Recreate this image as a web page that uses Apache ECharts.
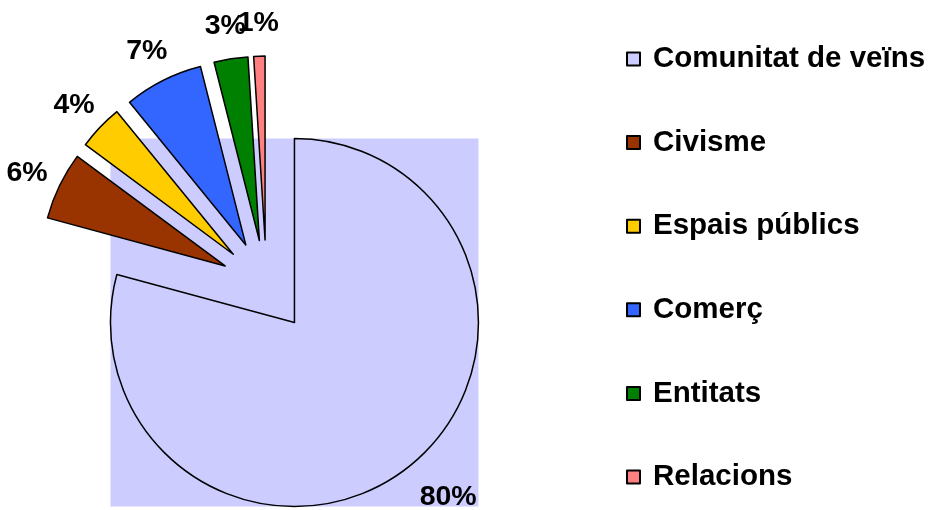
<!DOCTYPE html>
<html lang="ca">
<head>
<meta charset="UTF-8">
<title>Temes</title>
<script src="https://cdn.jsdelivr.net/npm/echarts@6/dist/echarts.min.js"></script>
<style>
  html, body { margin: 0; padding: 0; background: #fff; }
  #chart { width: 929px; height: 510px; }
</style>
</head>
<body>
<div id="chart"></div>
<script>
// dades
var categories = ['Comunitat de veïns', 'Civisme', 'Espais públics', 'Comerç', 'Entitats', 'Relacions'];
var values = [80, 6, 4, 7, 3, 1];
var colors = ['#CCCCFF', '#993300', '#FFCC00', '#3366FF', '#008000', '#FF8080'];

// mides del pastís
var cx = 266.5, cy = 286, R = 184, offset = 46;

var chart = echarts.init(document.getElementById('chart'));

// quadre de fons darrere la porció gran (com l'original)
var total = values.reduce(function (a, b) { return a + b; }, 0);
var mid0 = values[0] / total * Math.PI; // angle mig de la primera porció, des de dalt
var bx = cx + offset * Math.sin(mid0);
var by = cy - offset * Math.cos(mid0);

var data = [];
for (var i = 0; i < categories.length; i++) {
  data.push({
    name: categories[i],
    value: values[i],
    selected: true,
    itemStyle: { color: colors[i] }
  });
}

chart.setOption({
  animation: false,
  graphic: [{
    type: 'rect',
    z: 0,
    silent: true,
    shape: { x: bx - R, y: by - R, width: 2 * R, height: 2 * R },
    style: { fill: '#CCCCFF' }
  }],
  legend: {
    orient: 'vertical',
    left: 626,
    top: 44,
    padding: 0,
    itemWidth: 13,
    itemHeight: 13,
    itemGap: 53.6,
    selectedMode: false,
    icon: 'rect',
    textStyle: {
      fontFamily: 'Liberation Sans',
      fontWeight: 'bold',
      fontSize: 29.5,
      lineHeight: 28,
      color: '#000',
      padding: [0, 0, 0, 8]
    },
    data: categories
  },
  series: [{
    type: 'pie',
    z: 2,
    center: [cx, cy],
    radius: R,
    startAngle: 90,
    clockwise: true,
    selectedMode: 'multiple',
    selectedOffset: offset,
    avoidLabelOverlap: false,
    emphasis: { disabled: true },
    itemStyle: { borderColor: '#000', borderWidth: 1.5 },
    label: {
      position: 'outside',
      formatter: '{c}%',
      fontFamily: 'Liberation Sans',
      fontWeight: 'bold',
      fontSize: 28.5,
      color: '#000',
      distanceToLabelLine: 0
    },
    labelLine: { show: false, length: 36, length2: 0 },
    labelLayout: function (p) {
      // l'etiqueta gran va a la cantonada del quadre
      if (p.dataIndex === 0) {
        return { align: 'center', verticalAlign: 'middle', dx: 20, dy: 0 };
      }
      return { align: 'center', verticalAlign: 'middle', dy: 3 };
    },
    data: data
  }]
});
</script>
</body>
</html>
